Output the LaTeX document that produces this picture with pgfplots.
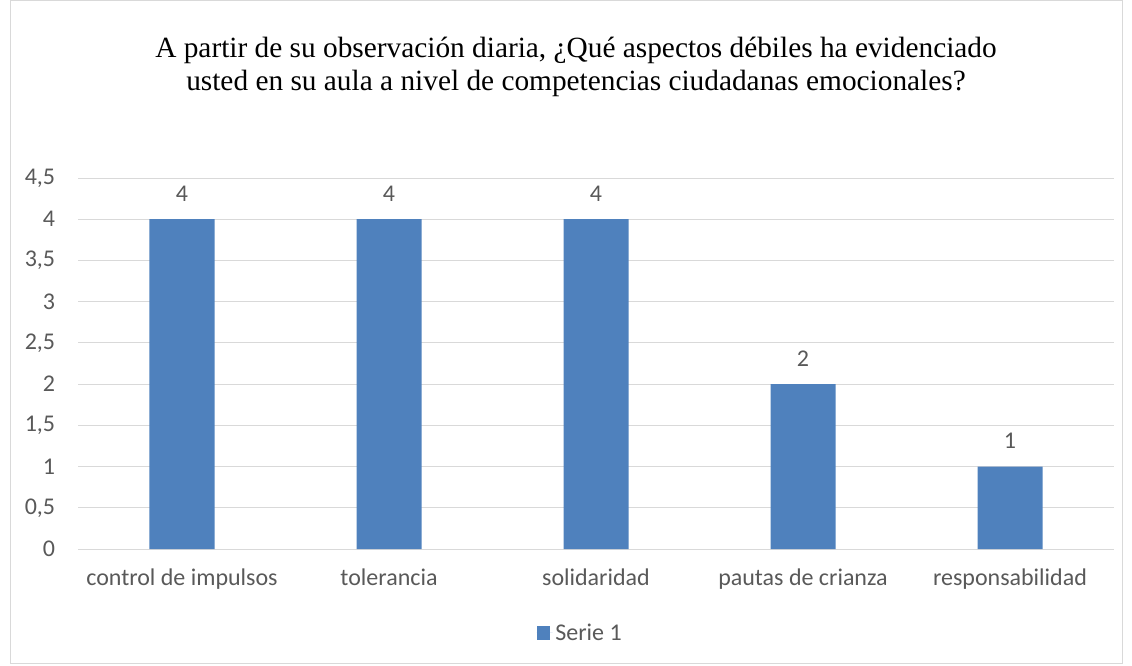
\documentclass[border=0pt]{standalone}
\usepackage{pgfplots}
\pgfplotsset{compat=1.18}
\usepackage{fontspec}
\setmainfont{Liberation Serif}
\newfontfamily\calibri{Carlito}
\definecolor{barblue}{HTML}{4F81BD}
\definecolor{gridgray}{HTML}{D9D9D9}
\definecolor{txtgray}{HTML}{595959}
\begin{document}
\begin{tikzpicture}[x=0.75pt,y=0.75pt]
% canvas in reference pixels (y upward, 665 high)
\path[use as bounding box] (0,0) rectangle (1132,665);
\draw[gridgray, line width=0.75pt] (10,2) rectangle (1122,664);
\node[font=\fontsize{22}{24.5}\selectfont, align=center, text=black] at (576,598)
  {A partir de su observación diaria, ¿Qué aspectos débiles ha evidenciado\\usted en su aula a nivel de competencias ciudadanas emocionales?};
\begin{axis}[
  at={(58.875pt,87pt)}, anchor=south west,
  scale only axis, width=776.25pt, height=278.25pt,
  ymin=0, ymax=4.5, ytick={0,0.5,...,4.5},
  xmin=-0.5, xmax=4.5, xtick=data,
  xticklabels={control de impulsos, tolerancia, solidaridad, pautas de crianza, responsabilidad},
  ybar, bar width=48.75pt,
  axis line style={draw=none},
  ymajorgrids, grid style={gridgray, line width=0.75pt},
  major tick length=0pt,
  tick label style={font=\calibri\fontsize{18}{20}\selectfont, text=txtgray},
  xticklabel style={yshift=-11pt},
  yticklabel style={xshift=-14pt, anchor=east},
  /pgf/number format/.cd, use comma, fixed, fixed zerofill=false, precision=1, assume math mode=true,
  /pgfplots/.cd,
  nodes near coords,
  nodes near coords style={font=\calibri\fontsize{18}{20}\selectfont, text=txtgray, yshift=10pt},
  legend style={at={(0.485,-0.226)}, anchor=center, draw=none, fill=none, font=\calibri\fontsize{18}{20}\selectfont, text=txtgray},
  legend image code/.code={\fill[barblue] (0pt,-5pt) rectangle (10pt,5pt); \path (0pt,0pt) -- (12pt,0pt);},
  clip=false,
]
\addplot[fill=barblue, draw=none] coordinates {(0,4) (1,4) (2,4) (3,2) (4,1)};
\addlegendentry{Serie 1}
\end{axis}
\end{tikzpicture}
\end{document}
